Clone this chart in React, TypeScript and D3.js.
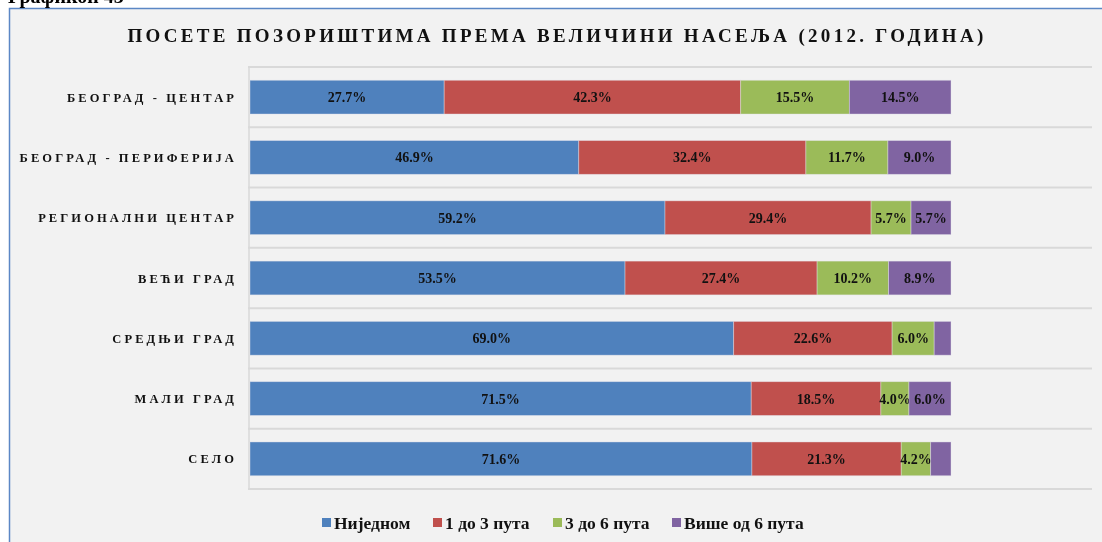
import * as d3 from "d3";

const categories = [
  "БЕОГРАД - ЦЕНТАР",
  "БЕОГРАД - ПЕРИФЕРИЈА",
  "РЕГИОНАЛНИ ЦЕНТАР",
  "ВЕЋИ ГРАД",
  "СРЕДЊИ ГРАД",
  "МАЛИ ГРАД",
  "СЕЛО",
];
const seriesNames = ["Ниједном", "1 до 3 пута", "3 до 6 пута", "Више од 6 пута"];
const never = [27.7, 46.9, 59.2, 53.5, 69.0, 71.5, 71.6];
const oneToThree = [42.3, 32.4, 29.4, 27.4, 22.6, 18.5, 21.3];
const threeToSix = [15.5, 11.7, 5.7, 10.2, 6.0, 4.0, 4.2];
const moreThanSix = [14.5, 9.0, 5.7, 8.9, 2.4, 6.0, 2.9];
// which segments carry a label in the original
const showLabel = [
  [true, true, true, true, true, true, true],
  [true, true, true, true, true, true, true],
  [true, true, true, true, true, true, true],
  [true, true, true, true, false, true, false],
];
const colors = ["#4f81bd", "#c0504d", "#9bbb59", "#8064a2"];

const W = 1102;
const H = 542;
const serif = "'Liberation Serif', 'Times New Roman', serif";

export default function App() {
  const values = [never, oneToThree, threeToSix, moreThanSix];
  const rows = categories.map((c, i) => {
    const r: any = { cat: c };
    seriesNames.forEach((s, j) => (r[s] = values[j][i]));
    return r;
  });
  const stacked = d3.stack<any>().keys(seriesNames)(rows);

  const x = d3.scaleLinear().domain([0, 100]).range([250, 951]);
  const y = d3.scaleBand().domain(categories).range([67, 489]).paddingInner(0.44).paddingOuter(0.22);
  const grid = d3.range(categories.length + 1).map((i) => 67 + (i * (489 - 67)) / categories.length);

  const legendX = [322, 433, 553, 672];

  return (
    <div style={{ position: "fixed", left: 0, top: 0 }}>
      <svg width={W} height={H} style={{ display: "block" }}>
        <rect x={0} y={0} width={W} height={H} fill="#ffffff" />
        <rect x={9.5} y={8.5} width={W + 20} height={H + 20} fill="#f2f2f2" stroke="#5b87c5" strokeWidth={1.5} />
        <text x={8} y={3} fontFamily={serif} fontWeight="bold" fontSize={20} fill="#000">
          Графикон 43
        </text>
        <text
          x={557}
          y={42}
          textAnchor="middle"
          fontFamily={serif}
          fontWeight="bold"
          fontSize={19}
          letterSpacing={3.3}
          fill="#111"
        >
          ПОСЕТЕ ПОЗОРИШТИМА ПРЕМА ВЕЛИЧИНИ НАСЕЉА (2012. ГОДИНА)
        </text>

        {grid.map((g, i) => (
          <line key={i} x1={248} x2={1092} y1={g} y2={g} stroke="#d9d9d9" strokeWidth={2} />
        ))}
        <line x1={249} x2={249} y1={67} y2={489} stroke="#d9d9d9" strokeWidth={1.5} />

        {stacked.map((layer, j) => (
          <g key={j}>
            {layer.map((d, i) => {
              const x0 = x(d[0]);
              const x1 = x(d[1]);
              const yy = y(categories[i])!;
              return (
                <g key={i}>
                  <rect
                    x={x0}
                    y={yy}
                    width={x1 - x0}
                    height={y.bandwidth()}
                    fill={colors[j]}
                    stroke="#e8e8f0"
                    strokeOpacity={0.5}
                    strokeWidth={0.8}
                  />
                  {showLabel[j][i] && (
                    <text
                      x={(x0 + x1) / 2}
                      y={yy + y.bandwidth() / 2 + 5}
                      textAnchor="middle"
                      fontFamily={serif}
                      fontWeight="bold"
                      fontSize={14}
                      fill="#111"
                    >
                      {values[j][i].toFixed(1)}%
                    </text>
                  )}
                </g>
              );
            })}
          </g>
        ))}

        {categories.map((c) => (
          <text
            key={c}
            x={237}
            y={y(c)! + y.bandwidth() / 2 + 4.5}
            textAnchor="end"
            fontFamily={serif}
            fontWeight="bold"
            fontSize={12.5}
            letterSpacing={3.1}
            fill="#111"
          >
            {c}
          </text>
        ))}

        {seriesNames.map((s, j) => (
          <g key={s}>
            <rect x={legendX[j]} y={518} width={9} height={9} fill={colors[j]} />
            <text x={legendX[j] + 12} y={529} fontFamily={serif} fontWeight="bold" fontSize={17.5} fill="#111">
              {s}
            </text>
          </g>
        ))}
      </svg>
    </div>
  );
}
